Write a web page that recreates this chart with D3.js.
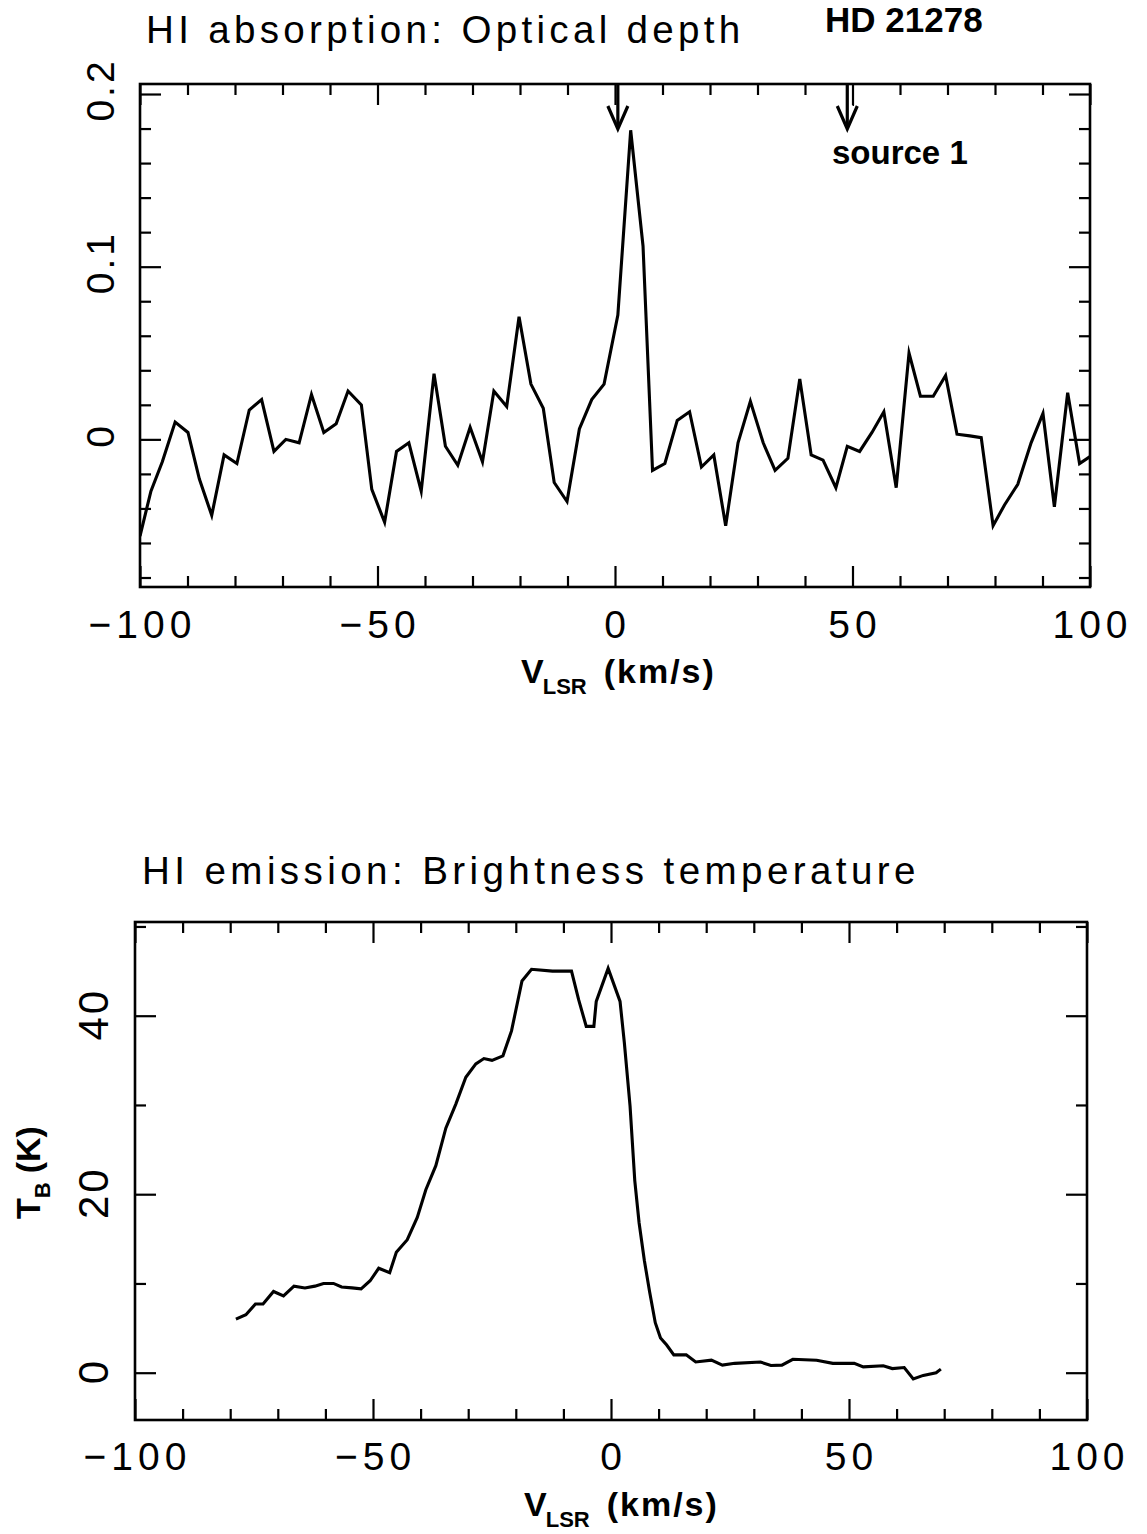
<!DOCTYPE html>
<html>
<head>
<meta charset="utf-8">
<script src="https://cdn.jsdelivr.net/npm/d3@7/dist/d3.min.js"></script>
<style>
  body { margin: 0; background: #fff; }
  svg { display: block; font-family: "Liberation Sans", Arial, Helvetica, sans-serif; }
</style>
</head>
<body>
<svg id="chart" width="1147" height="1534"></svg>
<script>
// HI absorption spectrum: LSR velocity (km/s) and optical depth per channel
const absVelocity = [-100, -97.7, -95.3, -92.6, -89.9, -87.5, -84.9, -82.3, -79.6, -77.0,
  -74.4, -71.8, -69.3, -66.5, -63.9, -61.3, -58.7, -56.2, -53.4, -51.2,
  -48.5, -46.0, -43.4, -40.8, -38.1, -35.7, -33.1, -30.5, -27.9, -25.5,
  -22.8, -20.2, -17.7, -15.1, -12.8, -10.1, -7.5, -4.9, -2.3, 0.6,
  3.3, 5.9, 7.9, 10.5, 13.1, 15.7, 18.2, 20.8, 23.3, 25.9,
  28.5, 31.2, 33.7, 36.4, 38.9, 41.3, 43.8, 46.5, 48.9, 51.5,
  54.1, 56.6, 59.2, 61.9, 64.3, 67.0, 69.6, 72.0, 74.7, 77.1,
  79.6, 82.0, 84.8, 87.6, 90.1, 92.5, 95.3, 97.8, 100];
const absTau = [-0.056, -0.030, -0.013, 0.010, 0.004, -0.023, -0.044, -0.009, -0.014, 0.017,
  0.023, -0.007, 0.000, -0.002, 0.026, 0.004, 0.009, 0.028, 0.020, -0.029,
  -0.048, -0.007, -0.002, -0.030, 0.038, -0.004, -0.015, 0.007, -0.013, 0.028,
  0.019, 0.071, 0.032, 0.018, -0.025, -0.036, 0.006, 0.023, 0.032, 0.072,
  0.179, 0.112, -0.018, -0.014, 0.011, 0.016, -0.016, -0.009, -0.050, -0.002,
  0.022, -0.002, -0.018, -0.011, 0.035, -0.009, -0.012, -0.028, -0.004, -0.007,
  0.004, 0.016, -0.028, 0.050, 0.025, 0.025, 0.037, 0.003, 0.002, 0.001,
  -0.050, -0.038, -0.026, -0.002, 0.015, -0.039, 0.027, -0.014, -0.010];

// HI emission spectrum: LSR velocity (km/s) and brightness temperature (K)
const emVelocity = [-78.8, -76.7, -74.7, -73.1, -70.9, -68.8, -66.6, -64.3, -62.2, -60.4,
  -58.3, -56.6, -54.4, -52.5, -50.6, -48.8, -46.5, -45.1, -42.8, -40.7,
  -38.9, -36.8, -34.7, -32.6, -30.5, -28.4, -26.7, -25.0, -22.7, -20.9,
  -18.7, -16.7, -12.3, -8.3, -6.8, -5.2, -3.6, -3.1, -0.6, 1.9,
  2.8, 4.0, 5.0, 5.9, 7.0, 8.1, 9.3, 10.4, 11.7, 13.2,
  15.8, 17.8, 21.1, 23.4, 26.0, 31.4, 33.6, 35.9, 38.2, 43.2,
  46.6, 51.1, 53.0, 57.2, 59.1, 61.6, 63.5, 65.6, 68.3, 69.3];
const emTemp = [6.0, 6.5, 7.7, 7.7, 9.1, 8.6, 9.7, 9.5, 9.7, 10.0,
  10.0, 9.6, 9.5, 9.4, 10.3, 11.7, 11.2, 13.5, 14.9, 17.4,
  20.5, 23.2, 27.4, 30.1, 33.1, 34.6, 35.2, 35.0, 35.5, 38.3,
  43.9, 45.2, 45.0, 45.0, 41.8, 38.8, 38.8, 41.6, 45.3, 41.6,
  37.0, 29.9, 21.5, 16.8, 12.6, 9.1, 5.6, 3.9, 3.1, 2.0,
  2.0, 1.2, 1.4, 0.85, 1.05, 1.2, 0.8, 0.85, 1.5, 1.4,
  1.05, 1.05, 0.65, 0.77, 0.46, 0.58, -0.7, -0.3, 0.0, 0.4];

// Axis ticks
const velMajorTicks = [-100, -50, 0, 50, 100];
const velMinorTicks = [-90, -80, -70, -60, -40, -30, -20, -10, 10, 20, 30, 40, 60, 70, 80, 90];
const tauMajorTicks = [0, 0.1, 0.2];
const tauMinorTicks = [-0.08, -0.06, -0.04, -0.02, 0.02, 0.04, 0.06, 0.08, 0.12, 0.14, 0.16, 0.18];
const tauTickLabels = ["0", "0.1", "0.2"];
const tempMajorTicks = [0, 20, 40];
const tempMinorTicks = [10, 30, 50];
const velTickLabels = ["\u2212100", "\u221250", "0", "50", "100"];

// Velocity markers on the absorption panel
const markerVelocity = [0.6, 48.9];
const markerText = ["", "source 1"];

const svg = d3.select("#chart");
const MAJOR = 21, MINOR = 11;

function drawPanel(opt) {
  const x = d3.scaleLinear().domain([-100, 100]).range([opt.left, opt.right]);
  const y = d3.scaleLinear().domain(opt.yDomain).range([opt.bottom, opt.top]);
  const g = svg.append("g");

  const tickStroke = sel => sel.call(s => s.select(".domain").remove())
    .selectAll("line").attr("stroke", "#000").attr("stroke-width", 2.2);
  const noLabel = () => "";

  // inward ticks on all four sides
  [[opt.majorX, MAJOR], [opt.minorX, MINOR]].forEach(([vals, len]) => {
    g.append("g").attr("transform", `translate(0,${opt.bottom})`)
      .call(d3.axisBottom(x).tickValues(vals).tickSize(-len).tickFormat(noLabel)).call(tickStroke);
    g.append("g").attr("transform", `translate(0,${opt.top})`)
      .call(d3.axisTop(x).tickValues(vals).tickSize(-len).tickFormat(noLabel)).call(tickStroke);
  });
  [[opt.majorY, MAJOR], [opt.minorY, MINOR]].forEach(([vals, len]) => {
    g.append("g").attr("transform", `translate(${opt.left},0)`)
      .call(d3.axisLeft(y).tickValues(vals).tickSize(-len).tickFormat(noLabel)).call(tickStroke);
    g.append("g").attr("transform", `translate(${opt.right},0)`)
      .call(d3.axisRight(y).tickValues(vals).tickSize(-len).tickFormat(noLabel)).call(tickStroke);
  });
  g.selectAll("text").remove();

  // frame
  g.append("rect").attr("x", opt.left).attr("y", opt.top)
    .attr("width", opt.right - opt.left).attr("height", opt.bottom - opt.top)
    .attr("fill", "none").attr("stroke", "#000").attr("stroke-width", 2.6);

  // x tick labels
  g.selectAll(".xl").data(velMajorTicks).join("text")
    .attr("x", d => x(d) + 2.5).attr("y", opt.xLabelY)
    .attr("text-anchor", "middle").attr("font-size", 39).attr("letter-spacing", 5)
    .text((d, i) => velTickLabels[i]);

  // y tick labels, rotated
  g.selectAll(".yl").data(opt.majorY).join("text")
    .attr("transform", d => `translate(${opt.yLabelX},${y(d) - opt.yLabelShift}) rotate(-90)`)
    .attr("text-anchor", "middle").attr("font-size", opt.yLabelSize).attr("letter-spacing", 3)
    .text((d, i) => opt.yLabels[i]);

  // spectrum
  const clipId = "clip" + opt.id;
  svg.append("clipPath").attr("id", clipId).append("rect")
    .attr("x", opt.left).attr("y", opt.top)
    .attr("width", opt.right - opt.left).attr("height", opt.bottom - opt.top);
  const pts = opt.xs.map((v, i) => [v, opt.ys[i]]);
  g.append("path").datum(pts)
    .attr("clip-path", `url(#${clipId})`)
    .attr("fill", "none").attr("stroke", "#000").attr("stroke-width", 3.1)
    .attr("stroke-linejoin", "miter").attr("stroke-miterlimit", 6)
    .attr("d", d3.line().x(d => x(d[0])).y(d => y(d[1])));

  // x-axis title: V_LSR (km/s)
  const t = g.append("text").attr("x", opt.titleX).attr("y", opt.xTitleY)
    .attr("font-weight", "bold").attr("font-size", 34);
  t.append("tspan").text("V");
  t.append("tspan").attr("font-size", 22).attr("dy", 11).attr("dx", -1).text("LSR");
  t.append("tspan").attr("dy", -11).attr("dx", 17).attr("letter-spacing", 2).text("(km/s)");

  return { x, y, g };
}

// ---- Upper panel: optical depth ----
const absPanel = drawPanel({
  id: "abs", left: 140, right: 1090, top: 84, bottom: 587,
  yDomain: [-0.0855, 0.2058],
  majorX: velMajorTicks, minorX: velMinorTicks,
  majorY: tauMajorTicks, minorY: tauMinorTicks,
  yLabels: tauTickLabels, yLabelX: 114, yLabelSize: 39, yLabelShift: 4,
  xLabelY: 638, xTitleY: 683, titleX: 521,
  xs: absVelocity, ys: absTau
});

svg.append("text").attr("x", 146).attr("y", 43)
  .attr("font-size", 38.6).attr("letter-spacing", 4.3)
  .text("HI absorption: Optical depth");
svg.append("text").attr("x", 825).attr("y", 32)
  .attr("font-size", 35).attr("font-weight", "bold")
  .text("HD 21278");

// velocity markers (arrows hanging from the top frame)
markerVelocity.forEach((v, i) => {
  const xv = absPanel.x(v), y0 = 84, tip = 129;
  const a = svg.append("g").attr("stroke", "#000").attr("fill", "none")
    .attr("stroke-width", 3.2).attr("stroke-linecap", "butt");
  a.append("line").attr("x1", xv).attr("x2", xv).attr("y1", y0).attr("y2", tip - 2);
  a.append("path").attr("d", `M${xv - 10},${tip - 23} L${xv},${tip} L${xv + 10},${tip - 23}`)
    .attr("stroke-linejoin", "miter");
  if (markerText[i]) {
    a.append("line").attr("x1", xv + 6).attr("x2", xv + 6).attr("y1", y0).attr("y2", 106)
      .attr("stroke-width", 1.5);
    svg.append("text").attr("x", 832).attr("y", 164)
      .attr("font-size", 33).attr("font-weight", "bold").text(markerText[i]);
  }
});

// ---- Lower panel: brightness temperature ----
drawPanel({
  id: "em", left: 135, right: 1087, top: 922, bottom: 1420,
  yDomain: [-5.3, 50.5],
  majorX: velMajorTicks, minorX: velMinorTicks,
  majorY: tempMajorTicks, minorY: tempMinorTicks,
  yLabels: tempMajorTicks.map(String), yLabelX: 108, yLabelSize: 42, yLabelShift: 1.5,
  xLabelY: 1470, xTitleY: 1516, titleX: 524,
  xs: emVelocity, ys: emTemp
});

svg.append("text").attr("x", 142).attr("y", 884)
  .attr("font-size", 38.6).attr("letter-spacing", 4.4)
  .text("HI emission: Brightness temperature");

// y-axis title: T_B (K)
const yt = svg.append("text").attr("transform", "translate(40,1219) rotate(-90)")
  .attr("font-weight", "bold").attr("font-size", 34);
yt.append("tspan").text("T");
yt.append("tspan").attr("font-size", 22).attr("dy", 10).text("B");
yt.append("tspan").attr("dy", -10).attr("dx", 9).text("(K)");
</script>
</body>
</html>
